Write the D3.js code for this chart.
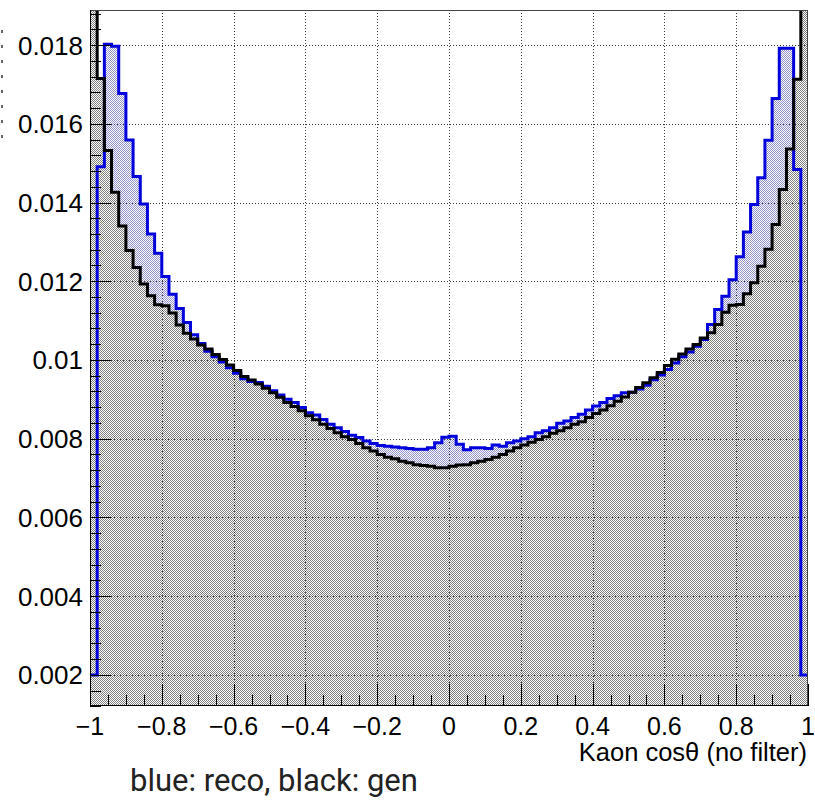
<!DOCTYPE html>
<html>
<head>
<meta charset="utf-8">
<script src="https://cdn.jsdelivr.net/npm/d3@7"></script>
<style>
  body { margin: 0; background: #fff; }
  svg { display: block; }
</style>
</head>
<body>
<svg id="chart" width="815" height="800"></svg>
<script>
// Kaon cos(theta), 100 bins over [-1, 1], normalised to unit area
const binLow = -1, binHigh = 1, nBins = 100;

// reconstructed (blue)
const recoValues = [
  0.00200, 0.01491, 0.01802, 0.01797, 0.01677, 0.01559, 0.01466, 0.01396, 0.01320, 0.01271,
  0.01212, 0.01167, 0.01131, 0.01095, 0.01064, 0.01042, 0.01022, 0.01008, 0.00995, 0.00980,
  0.00966, 0.00952, 0.00945, 0.00943, 0.00933, 0.00922, 0.00911, 0.00900, 0.00892, 0.00879,
  0.00866, 0.00860, 0.00849, 0.00837, 0.00828, 0.00818, 0.00809, 0.00803, 0.00794, 0.00788,
  0.00783, 0.00781, 0.00779, 0.00777, 0.00775, 0.00773, 0.00773, 0.00777, 0.00790, 0.00804,
  0.00806, 0.00786, 0.00772, 0.00777, 0.00777, 0.00775, 0.00784, 0.00781, 0.00790, 0.00794,
  0.00800, 0.00805, 0.00815, 0.00820, 0.00828, 0.00839, 0.00845, 0.00854, 0.00862, 0.00873,
  0.00883, 0.00892, 0.00902, 0.00909, 0.00917, 0.00918, 0.00926, 0.00936, 0.00950, 0.00962,
  0.00976, 0.00992, 0.01008, 0.01020, 0.01035, 0.01052, 0.01090, 0.01128, 0.01162, 0.01204,
  0.01262, 0.01325, 0.01395, 0.01463, 0.01558, 0.01664, 0.01792, 0.01792, 0.01484, 0.00200
];

// generated (black); the two edge bins run off the top of the frame
const genValues = [
  0.02050, 0.01715, 0.01532, 0.01426, 0.01340, 0.01278, 0.01235, 0.01193, 0.01163, 0.01140,
  0.01138, 0.01119, 0.01089, 0.01068, 0.01053, 0.01038, 0.01028, 0.01014, 0.01001, 0.00987,
  0.00973, 0.00958, 0.00949, 0.00939, 0.00928, 0.00917, 0.00905, 0.00892, 0.00882, 0.00871,
  0.00858, 0.00848, 0.00837, 0.00826, 0.00815, 0.00805, 0.00798, 0.00788, 0.00777, 0.00769,
  0.00760, 0.00753, 0.00749, 0.00743, 0.00739, 0.00734, 0.00732, 0.00730, 0.00726, 0.00726,
  0.00730, 0.00733, 0.00734, 0.00739, 0.00743, 0.00747, 0.00753, 0.00760, 0.00769, 0.00777,
  0.00784, 0.00791, 0.00798, 0.00805, 0.00814, 0.00820, 0.00828, 0.00837, 0.00843, 0.00854,
  0.00864, 0.00873, 0.00884, 0.00895, 0.00906, 0.00918, 0.00930, 0.00942, 0.00955, 0.00968,
  0.00986, 0.01002, 0.01015, 0.01028, 0.01039, 0.01056, 0.01069, 0.01090, 0.01121, 0.01139,
  0.01141, 0.01168, 0.01196, 0.01238, 0.01281, 0.01344, 0.01433, 0.01536, 0.01713, 0.02050
];

const xTickValues = [-1, -0.8, -0.6, -0.4, -0.2, 0, 0.2, 0.4, 0.6, 0.8, 1];
const xTickLabels = ["\u22121", "\u22120.8", "\u22120.6", "\u22120.4", "\u22120.2", "0", "0.2", "0.4", "0.6", "0.8", "1"];
const yTickValues = [0.002, 0.004, 0.006, 0.008, 0.010, 0.012, 0.014, 0.016, 0.018];
const yTickLabels = ["0.002", "0.004", "0.006", "0.008", "0.01", "0.012", "0.014", "0.016", "0.018"];
const yAxisRange = [0.00121, 0.01889];

const axisTitle = "Kaon cos\u03b8 (no filter)";
const caption = "blue: reco, black: gen";

// frame geometry
const frame = { left: 90, right: 808, top: 10, bottom: 706 };

const svg = d3.select("#chart");

const x = d3.scaleLinear().domain([binLow, binHigh]).range([frame.left, frame.right]);
const y = d3.scaleLinear().domain(yAxisRange).range([frame.bottom, frame.top]);

const binWidth = (binHigh - binLow) / nBins;
const edges = d3.range(nBins + 1).map(i => binLow + i * binWidth);

// dotted (checkerboard) fill patterns on a shared lattice so the dots overlap
const defs = svg.append("defs");
function dotPattern(id, color) {
  const p = defs.append("pattern")
    .attr("id", id)
    .attr("patternUnits", "userSpaceOnUse")
    .attr("width", 2).attr("height", 2);
  p.append("rect").attr("x", 0).attr("y", 0).attr("width", 1).attr("height", 1).attr("fill", color);
  p.append("rect").attr("x", 1).attr("y", 1).attr("width", 1).attr("height", 1).attr("fill", color);
}
dotPattern("dotsReco", "#9494cc");
dotPattern("dotsGen", "#808080");

defs.append("clipPath").attr("id", "frameClip")
  .append("rect")
  .attr("x", frame.left).attr("y", frame.top)
  .attr("width", frame.right - frame.left)
  .attr("height", frame.bottom - frame.top);

// step points: every bin contributes its left and right edge at its value
function stepPoints(values) {
  const pts = [];
  values.forEach((v, i) => {
    pts.push([edges[i], v]);
    pts.push([edges[i + 1], v]);
  });
  return pts;
}

const area = d3.area()
  .x(d => x(d[0]))
  .y0(y(yAxisRange[0]))
  .y1(d => y(d[1]));

const line = d3.line()
  .x(d => x(d[0]))
  .y(d => y(d[1]));

const plot = svg.append("g").attr("clip-path", "url(#frameClip)");

// fills
plot.append("path").datum(stepPoints(recoValues))
  .attr("d", area).attr("fill", "url(#dotsReco)");
plot.append("path").datum(stepPoints(genValues))
  .attr("d", area).attr("fill", "url(#dotsGen)");

// dotted grid
const grid = plot.append("g")
  .attr("stroke", "#3a3a3a")
  .attr("stroke-width", 1)
  .attr("stroke-dasharray", "1,2");
grid.selectAll(".gx").data(xTickValues.filter(v => v > binLow && v < binHigh)).join("line")
  .attr("x1", d => Math.round(x(d)) + 0.5).attr("x2", d => Math.round(x(d)) + 0.5)
  .attr("y1", frame.top).attr("y2", frame.bottom);
grid.selectAll(".gy").data(yTickValues).join("line")
  .attr("x1", frame.left).attr("x2", frame.right)
  .attr("y1", d => Math.round(y(d)) + 0.5).attr("y2", d => Math.round(y(d)) + 0.5);

// outlines
plot.append("path").datum(stepPoints(recoValues))
  .attr("d", line).attr("fill", "none")
  .attr("stroke", "#0000dc").attr("stroke-width", 3)
  .attr("stroke-linejoin", "miter");
plot.append("path").datum(stepPoints(genValues))
  .attr("d", line).attr("fill", "none")
  .attr("stroke", "#000").attr("stroke-width", 3)
  .attr("stroke-linejoin", "miter");

// frame
svg.append("rect")
  .attr("x", frame.left + 0.5).attr("y", frame.top + 0.5)
  .attr("width", frame.right - frame.left - 1)
  .attr("height", frame.bottom - frame.top - 1)
  .attr("fill", "none").attr("stroke", "#444").attr("stroke-width", 1);

// x axis (ticks pointing into the frame)
const xMajorLen = 22, xMinorLen = 11;
const xMinor = d3.range(binLow, binHigh + 1e-9, 0.05);
const xAxisG = svg.append("g").attr("stroke", "#000").attr("stroke-width", 1);
xAxisG.append("line")
  .attr("x1", frame.left).attr("x2", frame.right)
  .attr("y1", frame.bottom - 0.5).attr("y2", frame.bottom - 0.5);
xAxisG.selectAll(".xmin").data(xMinor).join("line")
  .attr("x1", d => Math.round(x(d)) + 0.5).attr("x2", d => Math.round(x(d)) + 0.5)
  .attr("y1", frame.bottom).attr("y2", frame.bottom - xMinorLen);
xAxisG.selectAll(".xmaj").data(xTickValues).join("line")
  .attr("x1", d => Math.round(x(d)) + 0.5).attr("x2", d => Math.round(x(d)) + 0.5)
  .attr("y1", frame.bottom).attr("y2", frame.bottom - xMajorLen);

svg.append("g").selectAll("text").data(xTickValues).join("text")
  .attr("x", d => x(d))
  .attr("y", 735)
  .attr("text-anchor", "middle")
  .attr("font-family", "'Liberation Sans', Arial, sans-serif")
  .attr("font-size", 25)
  .attr("fill", "#000")
  .text((d, i) => xTickLabels[i]);

// y axis
const yMajorLen = 21, yMinorLen = 11;
const yMinor = d3.range(0.0012, yAxisRange[1], 0.0004);
const yAxisG = svg.append("g").attr("stroke", "#000").attr("stroke-width", 1);
yAxisG.append("line")
  .attr("x1", frame.left + 0.5).attr("x2", frame.left + 0.5)
  .attr("y1", frame.top).attr("y2", frame.bottom);
yAxisG.selectAll(".ymin").data(yMinor).join("line")
  .attr("x1", frame.left).attr("x2", frame.left + yMinorLen)
  .attr("y1", d => Math.round(y(d)) + 0.5).attr("y2", d => Math.round(y(d)) + 0.5);
yAxisG.selectAll(".ymaj").data(yTickValues).join("line")
  .attr("x1", frame.left).attr("x2", frame.left + yMajorLen)
  .attr("y1", d => Math.round(y(d)) + 0.5).attr("y2", d => Math.round(y(d)) + 0.5);

svg.append("g").selectAll("text").data(yTickValues).join("text")
  .attr("x", 83)
  .attr("y", d => y(d) + 9.5)
  .attr("text-anchor", "end")
  .attr("font-family", "'Liberation Sans', Arial, sans-serif")
  .attr("font-size", 26)
  .attr("fill", "#000")
  .text((d, i) => yTickLabels[i]);

// axis title, right-aligned under the axis
svg.append("text")
  .attr("x", 807)
  .attr("y", 761)
  .attr("text-anchor", "end")
  .attr("font-family", "'Liberation Sans', Arial, sans-serif")
  .attr("font-size", 25.5)
  .attr("fill", "#000")
  .text(axisTitle);

// caption
svg.append("text")
  .attr("x", 130)
  .attr("y", 791)
  .attr("font-family", "Roboto, sans-serif")
  .attr("font-size", 31)
  .attr("fill", "#222")
  .text(caption);

// neighbouring pad edge at the far left
svg.append("line")
  .attr("x1", 2).attr("x2", 2).attr("y1", 30).attr("y2", 138)
  .attr("stroke", "#333").attr("stroke-width", 1.5)
  .attr("stroke-dasharray", "3,12");
</script>
</body>
</html>
